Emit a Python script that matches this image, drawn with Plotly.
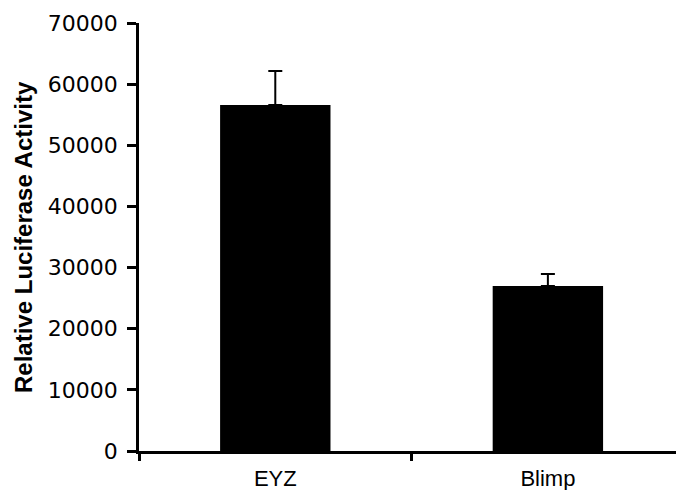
import plotly.graph_objects as go

categories = ["EYZ", "Blimp"]
values = [56600, 27000]
errors_up = [5550, 1950]
y_ticks = [0, 10000, 20000, 30000, 40000, 50000, 60000, 70000]

fig = go.Figure()
fig.add_trace(go.Bar(
    x=categories, y=values, width=0.405,
    marker=dict(color="black", line=dict(width=0)),
    error_y=dict(type="data", array=errors_up, arrayminus=[0, 0], symmetric=False,
                 color="black", thickness=2, width=7),
))

fig.update_layout(
    width=676, height=490,
    margin=dict(l=139, r=0, t=23, b=39),
    paper_bgcolor="white", plot_bgcolor="white",
    showlegend=False,
    xaxis=dict(
        range=[-0.5, 1.47], showline=True, linecolor="black", linewidth=2.5,
        ticks="outside", tickson="boundaries", ticklen=7, tickwidth=2.5, tickcolor="black",
        tickfont=dict(family="Liberation Sans, Arial", size=22, color="black"),
        ticklabelstandoff=6,
        showgrid=False, zeroline=False,
    ),
    yaxis=dict(
        range=[0, 70000], showline=True, linecolor="black", linewidth=2.5,
        tickvals=y_ticks, ticktext=[str(v) for v in y_ticks],
        ticks="outside", ticklen=9, tickwidth=2.5, tickcolor="black",
        tickfont=dict(family="DejaVu Sans, Verdana", size=22, color="black"),
        ticklabelstandoff=5,
        showgrid=False, zeroline=False,
    ),
    annotations=[dict(
        text="<b>Relative Luciferase Activity</b>", textangle=-90,
        xref="paper", yref="paper", x=-(139 - 23) / 537, y=0.5,
        xanchor="center", yanchor="middle", showarrow=False,
        font=dict(family="Liberation Sans, Arial", size=24, color="black"),
    )],
)

fig.write_html("out.html")
